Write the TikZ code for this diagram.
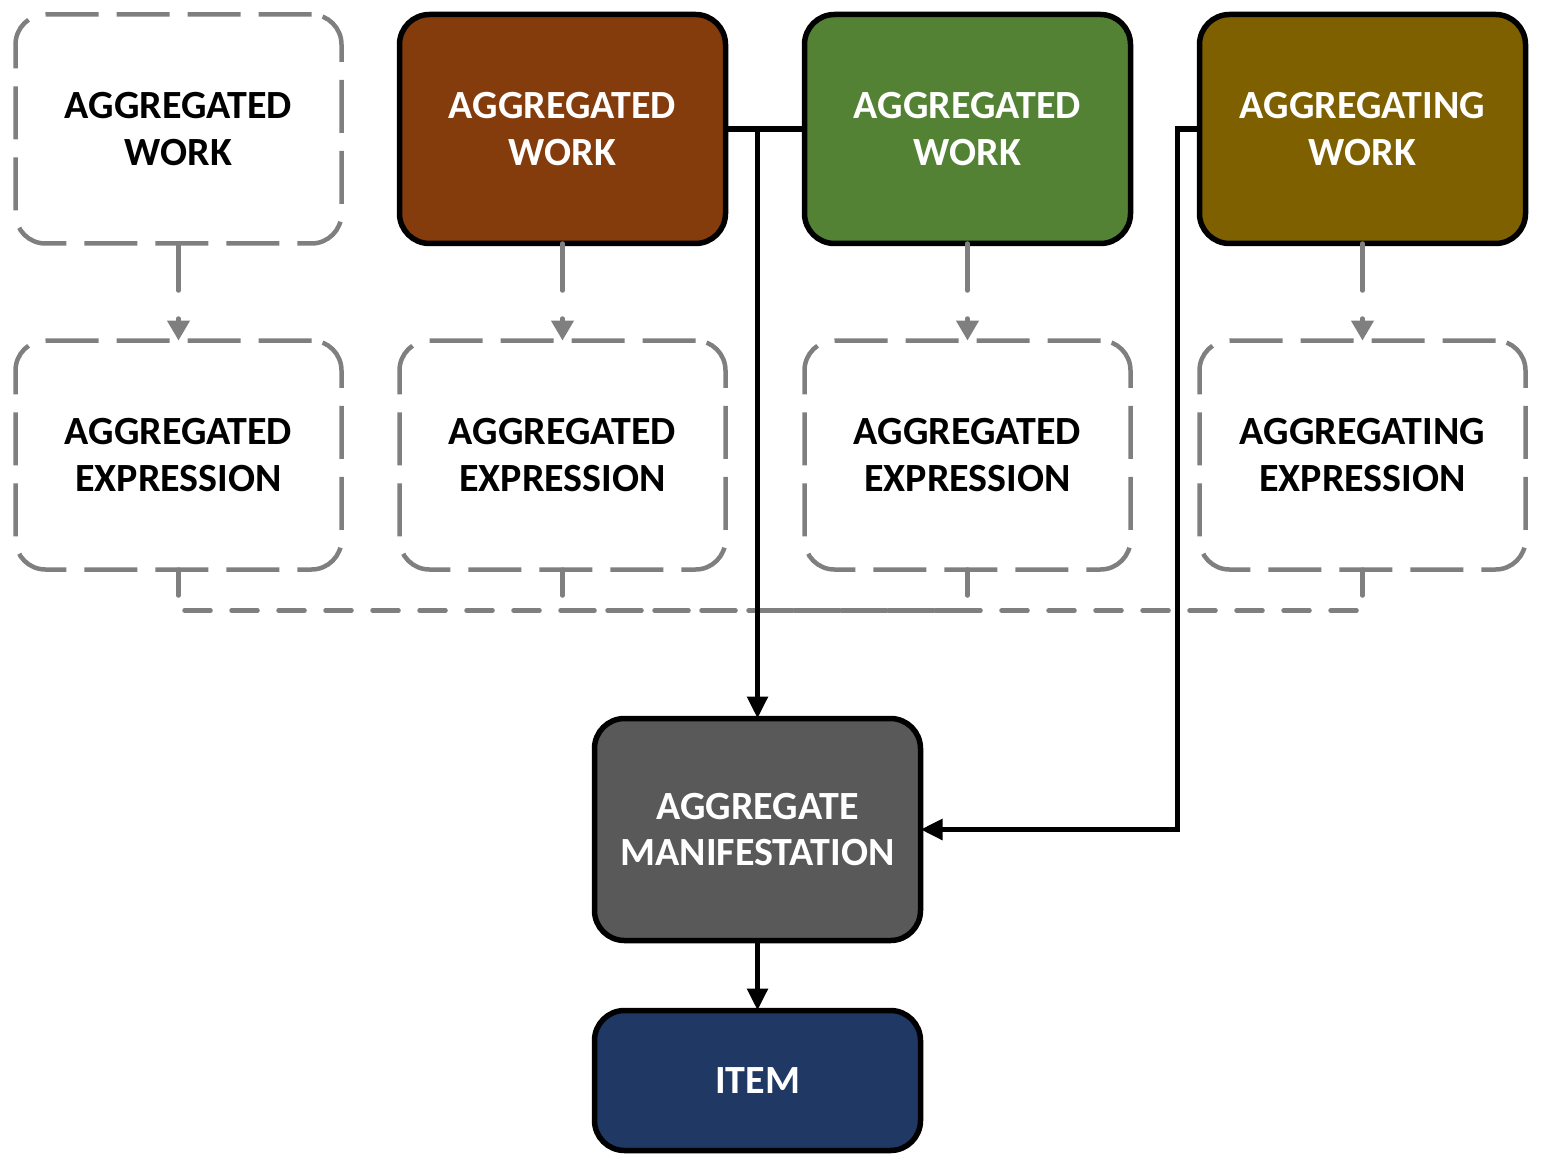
\documentclass[tikz,border=0pt]{standalone}
\usepackage{fontspec}
\setmainfont{Carlito}
\usetikzlibrary{positioning, arrows.meta}
\definecolor{dashgray}{HTML}{7F7F7F}
\definecolor{workbrown}{HTML}{843C0C}
\definecolor{workgreen}{HTML}{548235}
\definecolor{workolive}{HTML}{7F6000}
\definecolor{manifgray}{HTML}{595959}
\definecolor{itemblue}{HTML}{203864}
\tikzset{
  box/.style={rectangle, rounded corners=15pt, minimum width=163pt, minimum height=114.5pt,
    inner sep=0pt, outer sep=0pt, align=center, font=\fontsize{20}{23.4}\selectfont\bfseries},
  solidbox/.style={box, draw=black, line width=2.75pt, text=white},
  dashbox/.style={box, draw=dashgray, line width=2.25pt, dash pattern=on 26.5pt off 9pt, text=black},
  link/.style={draw=black, line width=2.75pt, -{Triangle[length=11pt, width=10pt]}},
  plainlink/.style={draw=black, line width=2.75pt},
  dashlink/.style={draw=dashgray, line width=2.25pt, line cap=round, dash pattern=on 13pt off 10.5pt},
  dasharrow/.style={draw=dashgray, line width=2.25pt, line cap=round, dash pattern=on 23.5pt off 14pt,
    -{Triangle[length=10pt, width=11pt]}},
}

\begin{document}
\begin{tikzpicture}[x=0.5pt, y=-0.5pt]
    \useasboundingbox (0,0) rectangle (1541,1166);
    \node[dashbox] (w1) at (178.5,129) {AGGREGATED\\WORK};
    \node[solidbox, fill=workbrown, right=29pt of w1] (w2) {AGGREGATED\\WORK};
    \node[solidbox, fill=workgreen, right=39.5pt of w2] (w3) {AGGREGATED\\WORK};
    \node[solidbox, fill=workolive, right=34.5pt of w3] (w4) {AGGREGATING\\WORK};
    \node[dashbox, below=48.5pt of w1] (e1) {AGGREGATED\\EXPRESSION};
    \node[dashbox, below=48.5pt of w2] (e2) {AGGREGATED\\EXPRESSION};
    \node[dashbox, below=48.5pt of w3] (e3) {AGGREGATED\\EXPRESSION};
    \node[dashbox, below=48.5pt of w4] (e4) {AGGREGATING\\EXPRESSION};
    \node[solidbox, fill=manifgray, minimum height=111pt] (manif) at (757.5,829.5) {AGGREGATE\\MANIFESTATION};
    \node[solidbox, fill=itemblue, minimum height=70pt, below=35pt of manif] (item) {ITEM};
    \coordinate (split) at (w2.east -| manif.north);
    \coordinate (hub) at ([yshift=-20.5pt]e2.south -| manif.north);

    % Connect the nodes
    \draw[dasharrow] (w1) -- (e1) ; %
    \draw[dasharrow] (w2) -- (e2) ; %
    \draw[dasharrow] (w3) -- (e3) ; %
    \draw[dasharrow] (w4) -- (e4) ; %
    \draw[dashlink] (e1) |- (hub) ; %
    \draw[dashlink] (e2) |- (hub) ; %
    \draw[dashlink] (e3) |- (hub) ; %
    \draw[dashlink] (e4) |- (hub) ; %
    \draw[plainlink] (w2.east) -- (w3.west) ; %
    \draw[link] (split) -- (manif.north) ; %
    \draw[link] (w4.west) -- ++(-11pt,0) |- (manif.east) ; %
    \draw[link] (manif) -- (item) ; %
  \end{tikzpicture}
\end{document}
